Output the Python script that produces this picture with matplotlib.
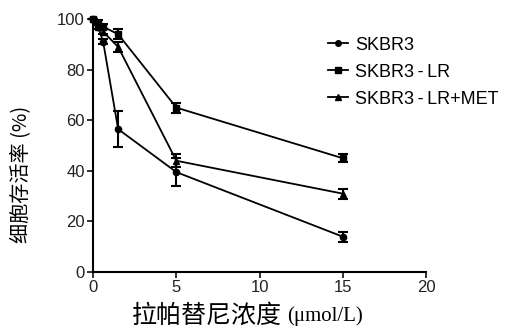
import matplotlib
matplotlib.use("Agg")
import matplotlib.pyplot as plt
from matplotlib.lines import Line2D

# 浓度 (μmol/L)
conc = [0, 0.3, 0.6, 1.5, 5, 15]

# 细胞存活率 (%) 及误差
skbr3 = [100, 97, 91, 56.5, 39.5, 14]
skbr3_err = [0, 1, 1, 7, 5.5, 2]
lr = [100, 98.5, 97, 94, 65, 45]
lr_err = [0, 1, 1, 2, 2, 1.5]
met = [100, 97, 95, 89, 44, 31]
met_err = [0, 1, 1, 2, 2.5, 2]

labels = ["SKBR3", "SKBR3\u2009-\u2009LR", "SKBR3\u2009-\u2009LR+MET"]
markers = ["o", "s", "^"]

xticks = [0, 5, 10, 15, 20]
yticks = [0, 20, 40, 60, 80, 100]

plt.rcParams["font.family"] = ["Liberation Sans", "DejaVu Sans", "Noto Sans CJK SC"]

fig = plt.figure(figsize=(5.12, 3.29), dpi=100)
ax = fig.add_axes([0.182, 0.173, 0.650, 0.769])

handles = []
for y, e, lab, m in zip([skbr3, lr, met], [skbr3_err, lr_err, met_err], labels, markers):
    ax.errorbar(conc, y, yerr=e, color="black", marker=m, markersize=4.5,
                linewidth=1.3, elinewidth=1.5, capsize=3.5, capthick=1.5,
                clip_on=False, zorder=3)
    handles.append(Line2D([], [], color="black", marker=m, markersize=4,
                          linewidth=1.3, label=lab))

ax.set_xlim(0, 20)
ax.set_ylim(0, 100)
ax.set_xticks(xticks)
ax.set_yticks(yticks)
ax.tick_params(labelsize=12, width=1.3, length=4, direction="out",
               colors="#222222", pad=2)
for s in ["top", "right"]:
    ax.spines[s].set_visible(False)
for s in ["left", "bottom"]:
    ax.spines[s].set_linewidth(1.5)

fig.text(0.043, 0.471, "细胞存活率 (%)", fontsize=14.5, rotation=90,
         ha="center", va="center", family=["Noto Sans CJK SC", "DejaVu Sans"])
fig.text(0.258, 0.02, "拉帕替尼浓度", fontsize=18, family=["Noto Sans CJK SC"])
fig.text(0.56, 0.025, "(μmol/L)", fontsize=15, family=["Liberation Serif"])

ax.legend(handles=handles, loc="upper left", bbox_to_anchor=(0.705, 0.93),
          frameon=False, fontsize=13, handlelength=1.1, handletextpad=0.4,
          labelspacing=0.55, borderaxespad=0, borderpad=0)

fig.savefig("out.png", dpi=100)
